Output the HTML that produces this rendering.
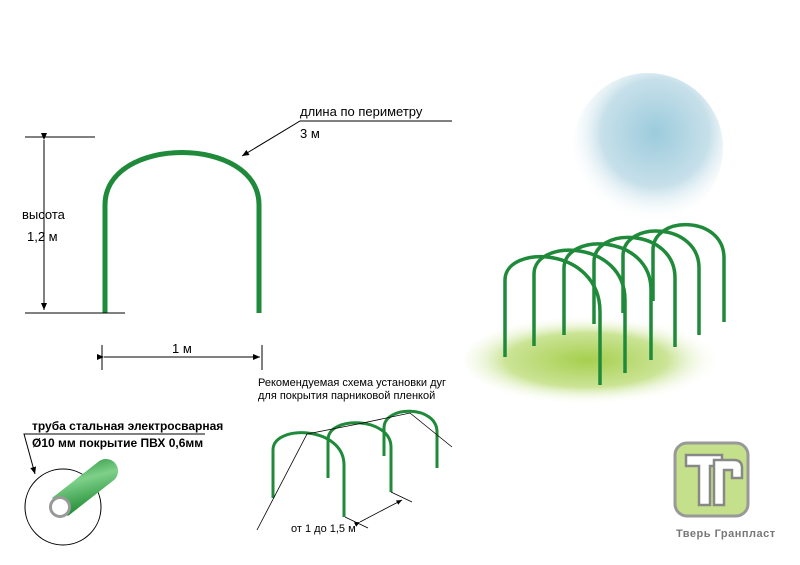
<!DOCTYPE html>
<html><head><meta charset="utf-8"><style>
body{margin:0;background:#fff}
svg{display:block;font-family:"Liberation Sans",sans-serif}
</style></head><body>
<svg width="800" height="565" viewBox="0 0 800 565">
<defs>
<radialGradient id="sky" cx="0.55" cy="0.4" r="0.6"><stop offset="0" stop-color="#9ccbdc"/><stop offset="0.6" stop-color="#c7e0ea"/><stop offset="1" stop-color="#fff" stop-opacity="0"/></radialGradient>
<radialGradient id="grass" cx="0.45" cy="0.5" r="0.5"><stop offset="0" stop-color="#a6cf4e"/><stop offset="0.6" stop-color="#cbe496"/><stop offset="1" stop-color="#fff" stop-opacity="0"/></radialGradient>
<linearGradient id="tube" x1="0" y1="0" x2="0.3" y2="1"><stop offset="0" stop-color="#1b8a30"/><stop offset="0.45" stop-color="#7fd08a"/><stop offset="1" stop-color="#1b8a30"/></linearGradient>
<marker id="ar" markerWidth="8" markerHeight="8" refX="7" refY="4" orient="auto"><path d="M0,1 L7,4 L0,7 z" fill="#000"/></marker>
</defs>
<!-- main arch -->
<g fill="none" stroke="#1f8a3a" stroke-width="5">
<path d="M105 313 V205 C105 135 259 135 259 205 V313"/>
</g>
<g stroke="#000" stroke-width="1" fill="none">
<line x1="25" y1="137" x2="95" y2="137"/><line x1="25" y1="313" x2="125" y2="313"/>
<line x1="44" y1="140" x2="44" y2="310" marker-start="url(#ar)" marker-end="url(#ar)"/>
<line x1="102" y1="345" x2="102" y2="370"/><line x1="262" y1="345" x2="262" y2="370"/>
<line x1="104" y1="357" x2="260" y2="357" marker-start="url(#ar)" marker-end="url(#ar)"/>
<polyline points="452,121 300,121 242,156" marker-end="url(#ar)"/>
</g>
<g font-size="13" fill="#000">
<text x="22" y="219">высота</text><text x="27" y="241">1,2 м</text>
<text x="172" y="353">1 м</text>
<text x="300" y="116">длина по периметру</text><text x="300" y="138">3 м</text>
</g>
<!-- right picture -->
<circle cx="648" cy="148" r="75" fill="url(#sky)"/>
<ellipse cx="600" cy="360" rx="135" ry="45" fill="url(#grass)"/>
<g fill="none" stroke="#1f8a3a" stroke-width="3.5">
<path d="M653 301 V250 C653 215 724 215 724 258 V322"/>
<path d="M623 313 V256 C623 220 699 222 699 268 V335"/>
<path d="M594 324 V262 C594 226 675 228 675 278 V347"/>
<path d="M564 335 V268 C564 232 651 234 651 290 V360"/>
<path d="M534 346 V274 C534 238 625 240 625 300 V373"/>
<path d="M505 357 V280 C505 244 600 246 600 312 V385"/>
</g>
<!-- tube -->
<circle cx="63" cy="507" r="38" fill="none" stroke="#000" stroke-width="1"/>
<path d="M52 498 L98 462 A12 12 0 0 1 114 480 L68 516 Z" fill="url(#tube)"/>
<circle cx="60" cy="507" r="11" fill="#999"/><circle cx="60" cy="507" r="8" fill="#fff"/>
<g stroke="#000" stroke-width="1" fill="none">
<polyline points="205,434 24,434 35,474" marker-end="url(#ar)"/>
</g>
<g font-size="12" font-weight="bold" fill="#000">
<text x="32" y="430">труба стальная электросварная</text>
<text x="32" y="447">Ø10 мм покрытие ПВХ 0,6мм</text>
</g>
<!-- tunnel -->
<g fill="none" stroke="#1f8a3a" stroke-width="3">
<path d="M384 456 V428 C384 405 437 405 437 432 V468"/>
<path d="M328 478 V440 C328 415 391 417 391 447 V492"/>
<path d="M273 498 V450 C273 424 344 426 344 465 V517"/>
</g>
<g stroke="#000" stroke-width="0.8" fill="none">
<polyline points="257,530 307,434 358,424 410,413 452,447"/>
<line x1="345" y1="517" x2="368" y2="528"/><line x1="391" y1="492" x2="412" y2="502"/>
<line x1="360" y1="522" x2="402" y2="500" marker-start="url(#ar)" marker-end="url(#ar)"/>
</g>
<g font-size="11" fill="#000">
<text x="258" y="386">Рекомендуемая схема установки дуг</text>
<text x="258" y="399">для покрытия парниковой пленкой</text>
<text x="291" y="532">от 1 до 1,5 м</text>
</g>
<!-- logo -->
<rect x="675" y="443" width="73" height="73" rx="12" fill="#c5e08a" stroke="#999" stroke-width="3"/>
<path d="M686 455 H722 V466 H710 V505 H699 V466 H686 Z" fill="#fff" stroke="#888" stroke-width="2.5"/>
<path d="M714 460 H734 Q742 460 742 468 V478 H732 V470 H724 V505 H714 Z" fill="#fff" stroke="#888" stroke-width="2.5"/>
<text x="676" y="537" font-size="11" font-weight="bold" fill="#777" letter-spacing="0.5">Тверь Гранпласт</text>
</svg>
</body></html>
